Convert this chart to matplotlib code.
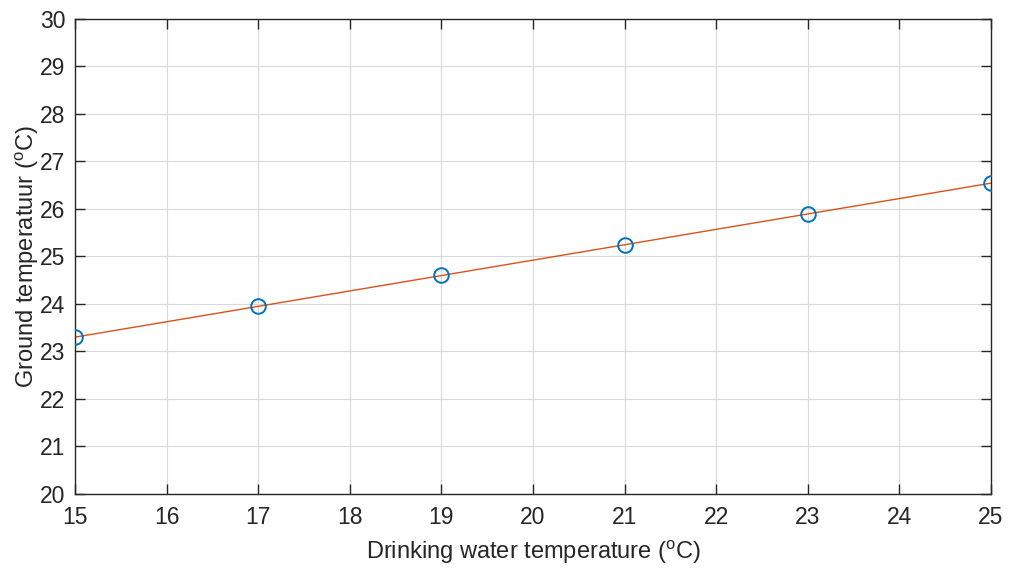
import numpy as np
import matplotlib
matplotlib.use('Agg')
import matplotlib.pyplot as plt

plt.rcParams['font.family'] = ['Liberation Sans', 'DejaVu Sans']
plt.rcParams['mathtext.fontset'] = 'custom'
plt.rcParams['mathtext.rm'] = 'Liberation Sans'
plt.rcParams['mathtext.it'] = 'Liberation Sans:italic'

# measured points
water_temp = [15, 17, 19, 21, 23, 25]
ground_temp = [23.30, 23.95, 24.60, 25.24, 25.89, 26.54]

# fitted line end points
fit_x = [15, 25]
fit_y = [23.30, 26.54]

x_ticks = list(range(15, 26))
y_ticks = list(range(20, 31))

txt = '#262626'
fig = plt.figure(figsize=(10.09, 5.68), dpi=100)
ax = fig.add_axes([75/1009, (568-494)/568, (991-75)/1009, (494-18.7)/568])

ax.plot(water_temp, ground_temp, 'o', mfc='none', mec='#0072BD', ms=10.5, mew=1.4, zorder=3)
ax.plot(fit_x, fit_y, '-', color='#D95319', lw=1.0, zorder=2)

ax.set_xlim(15, 25)
ax.set_ylim(20, 30)
ax.set_xticks(x_ticks)
ax.set_yticks(y_ticks)
ax.grid(True, color='#d9d9d9', lw=0.8)
ax.set_axisbelow(True)
ax.tick_params(direction='in', length=7, width=1, top=True, right=True,
               labelsize=16.5, colors=txt)
ax.tick_params(axis='x', pad=9)
ax.tick_params(axis='y', pad=7)
for s in ax.spines.values():
    s.set_color(txt)
    s.set_linewidth(1.0)

ax.set_xlabel(r'Drinking water temperature ($^{\mathrm{o}}$C)', fontsize=17, color=txt, labelpad=7)
ax.set_ylabel(r'Ground temperatuur ($^{\mathrm{o}}$C)', fontsize=17, color=txt, labelpad=-1)

fig.savefig('out.png', dpi=100)
